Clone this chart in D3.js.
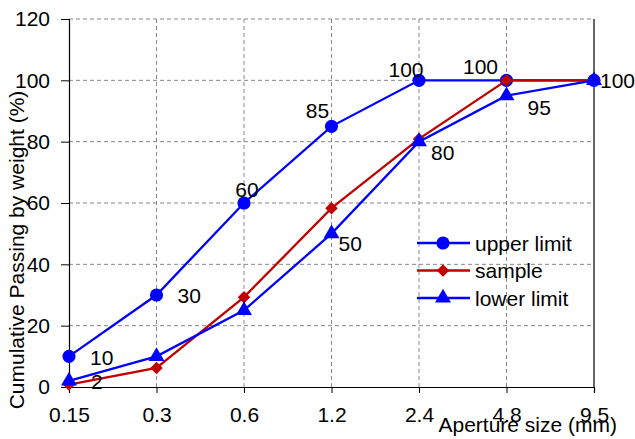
<!DOCTYPE html>
<html>
<head>
<meta charset="utf-8">
<script src="https://cdn.jsdelivr.net/npm/d3@7"></script>
<style>
  body { margin: 0; background: #fff; }
  svg { font-family: "Liberation Sans", Arial, sans-serif; }
</style>
</head>
<body>
<div id="chart"></div>
<script>
// sieve sizes (mm) and passing percentages
const sizes = ["0.15", "0.3", "0.6", "1.2", "2.4", "4.8", "9.5"];
const upperLimit = [10, 30, 60, 85, 100, 100, 100];
const sample = [0.8, 6.2, 29.3, 58.3, 80.9, 100, 100];
const lowerLimit = [2, 10, 25, 50, 80, 95, 100];
const yTicks = [0, 20, 40, 60, 80, 100, 120];

// which points get a value label, and where it goes
const upperLabels = [
  { i: 0, dx: 21, dy: 9, anchor: "start" },
  { i: 1, dx: 21, dy: 8, anchor: "start" },
  { i: 2, dx: 3, dy: -6, anchor: "middle" },
  { i: 3, dx: -14, dy: -8, anchor: "middle" },
  { i: 4, dx: -13, dy: -3, anchor: "middle" },
  { i: 5, dx: -26, dy: -6, anchor: "middle" }
];
const lowerLabels = [
  { i: 0, dx: 22, dy: 8, anchor: "start" },
  { i: 3, dx: 7, dy: 17, anchor: "start" },
  { i: 4, dx: 12, dy: 18, anchor: "start" },
  { i: 5, dx: 21, dy: 19, anchor: "start" },
  { i: 6, dx: 6, dy: 8, anchor: "start" }
];

const width = 635, height = 439;
const margin = { top: 19, right: 41, bottom: 52, left: 69 };
const iw = width - margin.left - margin.right;
const ih = height - margin.top - margin.bottom;
const fs = 21;

const svg = d3.select("#chart").append("svg")
  .attr("width", width)
  .attr("height", height);

const g = svg.append("g").attr("transform", `translate(${margin.left},${margin.top})`);

const x = d3.scalePoint().domain(sizes).range([0, iw]);
const y = d3.scaleLinear().domain([0, 120]).range([ih, 0]);

// grid
g.append("g").selectAll("line.h")
  .data(yTicks.filter(d => d > 0))
  .enter().append("line")
  .attr("x1", 0).attr("x2", iw)
  .attr("y1", d => y(d)).attr("y2", d => y(d))
  .attr("stroke", "#888").attr("stroke-dasharray", "4,3");
g.append("g").selectAll("line.v")
  .data(sizes.slice(1, -1))
  .enter().append("line")
  .attr("x1", d => x(d)).attr("x2", d => x(d))
  .attr("y1", 0).attr("y2", ih)
  .attr("stroke", "#888").attr("stroke-dasharray", "4,3");

// right border
g.append("line").attr("x1", iw).attr("x2", iw).attr("y1", 0).attr("y2", ih)
  .attr("stroke", "#000").attr("stroke-width", 1.2);

// axes
const xAxis = g.append("g").attr("transform", `translate(0,${ih})`)
  .call(d3.axisBottom(x).tickSize(6).tickPadding(14));
const yAxis = g.append("g")
  .call(d3.axisLeft(y).tickValues(yTicks).tickSize(8).tickPadding(11));
[xAxis, yAxis].forEach(a => {
  a.attr("font-size", fs).attr("font-family", "Liberation Sans, Arial, sans-serif");
  a.select(".domain").attr("stroke", "#000").attr("stroke-width", 1.2);
  a.selectAll(".tick line").attr("stroke", "#000");
  a.selectAll("text").attr("fill", "#000");
});

// axis titles
svg.append("text")
  .attr("transform", `translate(24,250) rotate(-90)`)
  .attr("text-anchor", "middle")
  .attr("font-size", fs)
  .text("Cumulative Passing by weight (%)");
svg.append("text")
  .attr("x", 617).attr("y", 432)
  .attr("text-anchor", "end")
  .attr("font-size", fs)
  .text("Aperture size (mm)");

const line = d3.line().x((d, i) => x(sizes[i])).y(d => y(d));

const series = [
  { name: "upper limit", values: upperLimit, color: "#0000ff", shape: d3.symbolCircle, size: 135 },
  { name: "sample", values: sample, color: "#c00000", shape: d3.symbolDiamond2, size: 100 },
  { name: "lower limit", values: lowerLimit, color: "#0000ff", shape: d3.symbolTriangle, size: 110 }
];

series.forEach(s => {
  g.append("path")
    .datum(s.values)
    .attr("d", line)
    .attr("fill", "none")
    .attr("stroke", s.color)
    .attr("stroke-width", 2.3);
  g.selectAll(null)
    .data(s.values)
    .enter().append("path")
    .attr("transform", (d, i) => `translate(${x(sizes[i])},${y(d)})`)
    .attr("d", d3.symbol().type(s.shape).size(s.size))
    .attr("fill", s.color);
});

// value labels
function addLabels(labels, values) {
  g.selectAll(null)
    .data(labels)
    .enter().append("text")
    .attr("x", d => x(sizes[d.i]) + d.dx)
    .attr("y", d => y(values[d.i]) + d.dy)
    .attr("text-anchor", d => d.anchor)
    .attr("font-size", fs)
    .text(d => values[d.i]);
}
addLabels(upperLabels, upperLimit);
addLabels(lowerLabels, lowerLimit);

// legend
const legend = svg.append("g").attr("transform", "translate(417,243)");
series.forEach((s, k) => {
  const row = legend.append("g").attr("transform", `translate(0,${k * 27.5})`);
  row.append("line").attr("x1", 0).attr("x2", 53).attr("y1", 0).attr("y2", 0)
    .attr("stroke", s.color).attr("stroke-width", 2.3);
  row.append("path").attr("transform", "translate(26,0)")
    .attr("d", d3.symbol().type(s.shape).size(s.size))
    .attr("fill", s.color);
  row.append("text").attr("x", 58).attr("y", 7.5)
    .attr("font-size", fs)
    .text(s.name);
});
</script>
</body>
</html>
